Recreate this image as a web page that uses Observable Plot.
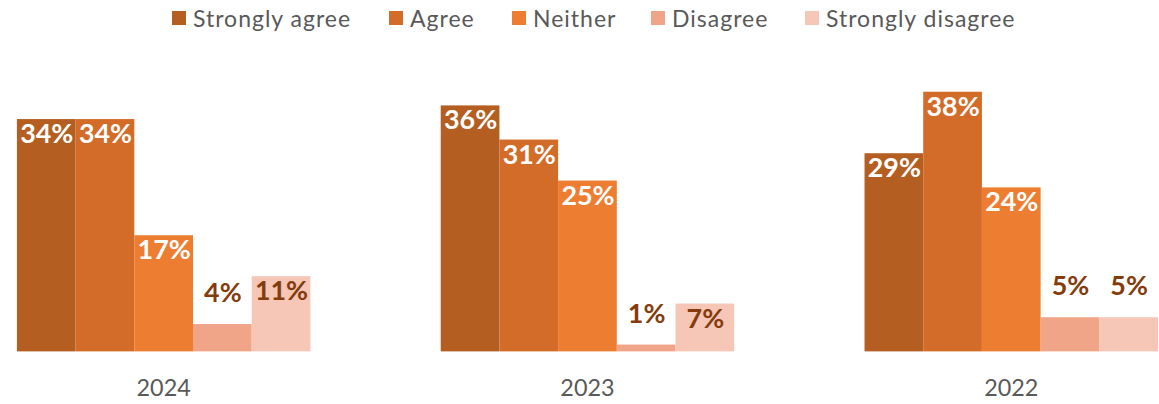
<!DOCTYPE html>
<html>
<head>
<meta charset="utf-8">
<script src="https://cdn.jsdelivr.net/npm/d3@7"></script>
<script src="https://cdn.jsdelivr.net/npm/@observablehq/plot@0.6"></script>
<style>
  html, body { margin: 0; padding: 0; background: #fff; overflow: hidden; width: 1159px; height: 404px; }
  #legend { position: relative; height: 40px; font-family: Lato, "Open Sans", sans-serif; font-size: 23px; letter-spacing: 1px; color: #595959; }
  #legend .item { position: absolute; top: 4px; display: flex; align-items: center; white-space: nowrap; }
  #legend .sw { width: 14px; height: 14px; margin-right: 7px; display: inline-block; }
  #chart svg { display: block; overflow: visible; }
</style>
</head>
<body>
<div id="legend"></div>
<div id="chart"></div>
<script>
const years = ["2024", "2023", "2022"];
const categories = ["Strongly agree", "Agree", "Neither", "Disagree", "Strongly disagree"];
const values2024 = [34, 34, 17, 4, 11];
const values2023 = [36, 31, 25, 1, 7];
const values2022 = [29, 38, 24, 5, 5];
const colors = ["#B45F21", "#D36C28", "#ED7D31", "#F1A588", "#F6C6B7"];
const labelColors = ["#ffffff", "#ffffff", "#ffffff", "#843C0C", "#843C0C"];
const legendX = [172, 389, 512, 651, 805];

const seriesByYear = {"2024": values2024, "2023": values2023, "2022": values2022};
const data = years.flatMap(y => categories.map((c, i) => ({year: y, category: c, value: seriesByYear[y][i], idx: i})));

// legend
const legend = document.getElementById("legend");
categories.forEach((c, i) => {
  const it = document.createElement("div");
  it.className = "item";
  it.style.left = legendX[i] + "px";
  it.innerHTML = `<span class="sw" style="background:${colors[i]}"></span><span>${c}</span>`;
  legend.appendChild(it);
});

const chart = Plot.plot({
  width: 1165,
  height: 364,
  marginLeft: 15,
  marginRight: 0,
  marginTop: 52,
  marginBottom: 51,
  style: {fontFamily: "Lato, 'Open Sans', sans-serif", background: "transparent"},
  fx: {domain: years, paddingInner: 0.3044, paddingOuter: 0, label: null},
  x: {domain: categories, padding: 0, axis: null},
  y: {domain: [0, 38], axis: null},
  color: {domain: categories, range: colors},
  marks: [
    Plot.barY(data, {fx: "year", x: "category", y: "value", fill: "category"}),
    Plot.text(data.filter(d => d.value >= 7), {
      fx: "year", x: "category", y: "value", text: d => d.value + "%",
      dy: 15, fontSize: 27, fontWeight: "bold", lineAnchor: "middle",
      fill: d => labelColors[d.idx]
    }),
    Plot.text(data.filter(d => d.value < 7), {
      fx: "year", x: "category", y: "value", text: d => d.value + "%",
      dy: -31, fontSize: 27, fontWeight: "bold", lineAnchor: "middle",
      fill: d => labelColors[d.idx]
    }),
    Plot.axisFx({anchor: "bottom", tickSize: 0, tickPadding: 28, fontSize: 23.5, fill: "#595959", label: null})
  ]
});
document.getElementById("chart").appendChild(chart);
</script>
</body>
</html>
